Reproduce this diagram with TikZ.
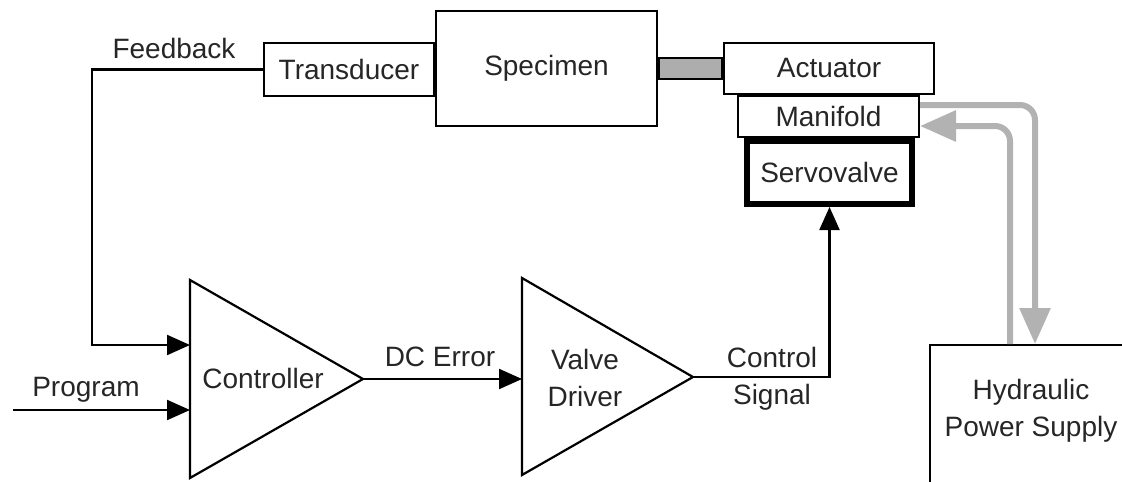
\documentclass[tikz,border=0pt]{standalone}
\usepackage{fontspec}
\setmainfont{Liberation Sans}
\usetikzlibrary{arrows.meta}
\begin{document}
\begin{tikzpicture}[x=1pt,y=-1pt,
    every node/.style={font=\fontsize{28}{37}\selectfont,inner sep=0pt,text=black!85},
    blk/.style={draw,line width=2.2pt,fill=white},
    wire/.style={line width=2.2pt},
    sig/.style={wire,-{Triangle[length=23pt,width=20pt]}},
    pipe/.style={line width=6pt,draw=black!30,rounded corners=15pt},
    flow/.style={pipe,-{Triangle[length=36pt,width=30pt]}}]

    \useasboundingbox (0,0) rectangle (1122,482);
    \clip (0,0) rectangle (1122,482);

    % Marco de ensayo
    \node[blk,fill=black!32,minimum width=63,minimum height=21] (rod) at (690.5,68.5) {};
    \node[blk,minimum width=170,minimum height=53] (transducer) at (349,69.5) {Transducer};
    \node[blk,minimum width=221,minimum height=115] (specimen) at (546.5,68.5) {Specimen};
    \node[blk,minimum width=210,minimum height=51] (actuator) at (829,68.5) {Actuator};
    \node[blk,minimum width=181,minimum height=41] (manifold) at (828.5,116.5) {Manifold};
    \node[blk,line width=6pt,minimum width=165,minimum height=63] (servovalve) at (829.5,172.5) {Servovalve};

    % Fuente hidraulica
    \node[blk,anchor=north west,minimum width=204,minimum height=170] (hps) at (929,344) {};
    \node[align=center] (hpstext) at (1031,411) {Hydraulic\\Power Supply};

    % Controlador
    \draw[wire] (190,280) -- (363,379) -- (190,478) -- cycle;
    \node (controller) at (263,378) {Controller};
    \coordinate (ctrlfb) at (190,345);
    \coordinate (ctrlpg) at (190,410);
    \coordinate (ctrlout) at (363,379);

    % Valve driver
    \draw[wire] (522,278) -- (693,377) -- (522,475) -- cycle;
    \node[align=center] (driver) at (585,377.5) {Valve\\Driver};
    \coordinate (drvin) at (522,379);
    \coordinate (drvout) at (693,377);

    % Senales
    \coordinate (fbcorner) at (92,345);
    \coordinate (pgstart) at (13,410);
    \draw[sig] (transducer.west) -| (fbcorner) -- (ctrlfb);
    \node (fblabel) at (174,48) {Feedback};
    \draw[sig] (pgstart) -- (ctrlpg);
    \node (pglabel) at (86,390) {Program};
    \draw[sig] (ctrlout) -- (drvin);
    \node (dclabel) at (440,357) {DC Error};
    \draw[sig] (drvout) -| (servovalve.south);
    \node[align=center] (cslabel) at (772,378.5) {Control\\Signal};

    % Lineas hidraulicas
    \coordinate (mfout) at (920,105);
    \coordinate (mfin) at (920,126);
    \coordinate (hpsin) at (1035,344);
    \coordinate (hpsout) at (1010,344);
    \draw[flow] (mfout) -| (hpsin);
    \draw[flow] (hpsout) |- (mfin);
\end{tikzpicture}
\end{document}
